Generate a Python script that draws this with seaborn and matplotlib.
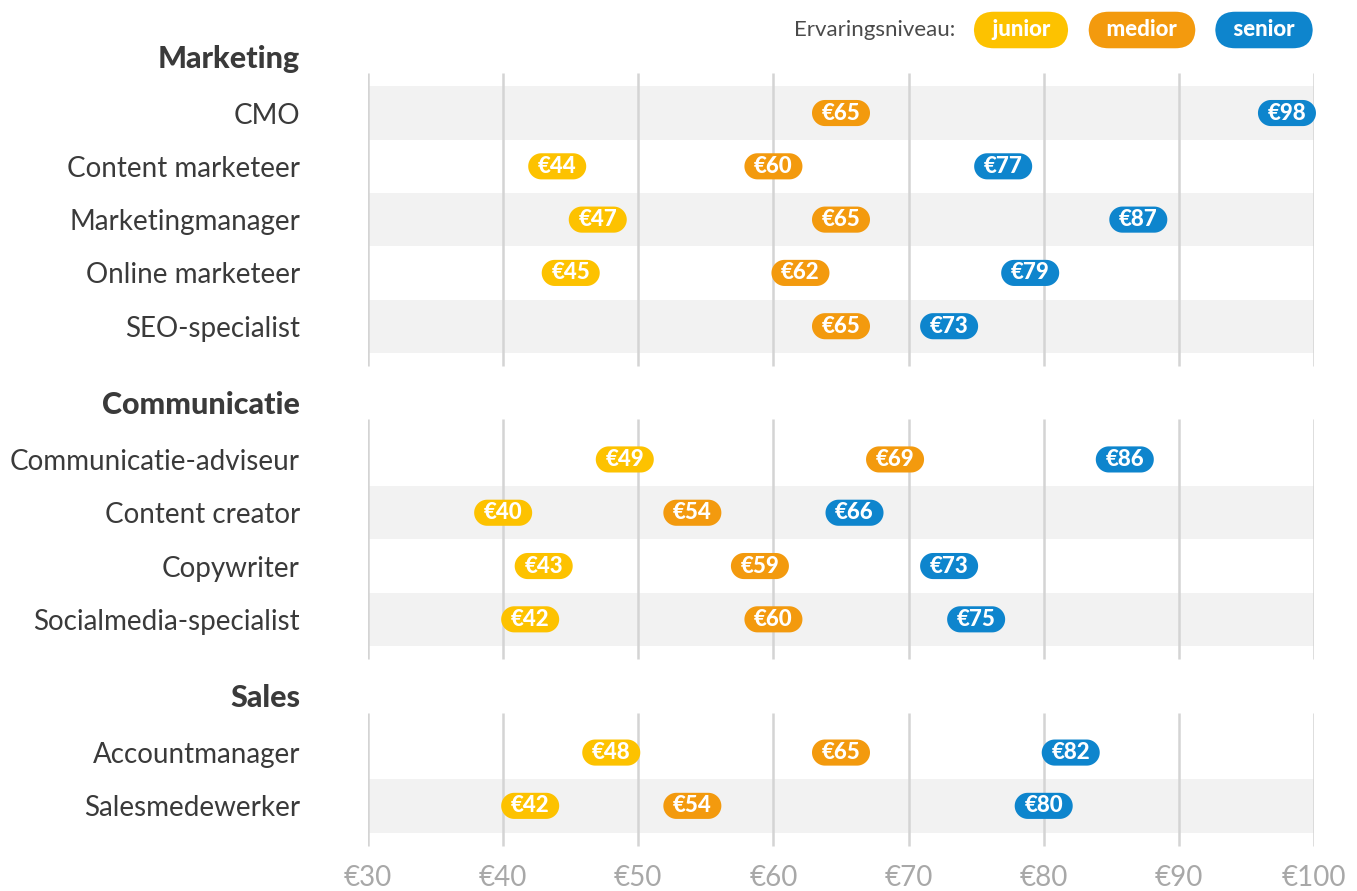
import numpy as np
import pandas as pd
import matplotlib
matplotlib.use('Agg')
import matplotlib.pyplot as plt
from matplotlib.path import Path
import seaborn as sns

# data
groepen = ['Marketing', 'Communicatie', 'Sales']
groep_grootte = [5, 4, 2]
functies = ['CMO', 'Content marketeer', 'Marketingmanager', 'Online marketeer', 'SEO-specialist',
            'Communicatie-adviseur', 'Content creator', 'Copywriter', 'Socialmedia-specialist',
            'Accountmanager', 'Salesmedewerker']
junior = [None, 44, 47, 45, None, 49, 40, 43, 42, 48, 42]
medior = [65, 60, 65, 62, 65, 69, 54, 59, 60, 65, 54]
senior = [98, 77, 87, 79, 73, 86, 66, 73, 75, 82, 80]
niveaus = ['junior', 'medior', 'senior']
kleuren = ['#FDC200', '#F39A0E', '#0E85CD']
xticks = [30, 40, 50, 60, 70, 80, 90, 100]

sns.set_theme(style='white')
plt.rcParams['font.family'] = ['Lato', 'DejaVu Sans']

# row positions, with a gap between the groups
gap = 1.5
pos = []
groep_start = []
y = 0
for n in groep_grootte:
    groep_start.append(y)
    pos += [y + i for i in range(n)]
    y += n + gap

df = pd.DataFrame({'functie': functies, 'pos': pos,
                   'junior': junior, 'medior': medior, 'senior': senior})
df = df.melt(id_vars=['functie', 'pos'], value_vars=niveaus,
             var_name='niveau', value_name='salaris').dropna()

# pill shaped marker
t = np.linspace(-np.pi / 2, np.pi / 2, 40)
r = 0.225
a = 0.5 - r
right = np.column_stack([a + r * np.cos(t), r * np.sin(t)])
left = np.column_stack([-a - r * np.cos(t), -r * np.sin(t)])
pill = Path(np.vstack([right, left, right[:1]]), closed=True)

fig = plt.figure(figsize=(13.57, 8.91), dpi=100)
ax = fig.add_axes([0.2712, 0.0477, 0.6971, 0.8733])

# alternating bands
for i, p in enumerate(pos):
    if i % 2 == 0:
        ax.axhspan(p - 0.5, p + 0.5, color='#F2F2F2', lw=0, zorder=0)

# gridlines per group
for s, n in zip(groep_start, groep_grootte):
    ax.vlines(xticks, s - 0.75, s + n - 1 + 0.75, color='#D4D4D4', lw=1.8, zorder=1)

sns.scatterplot(data=df, x='salaris', y='pos', hue='niveau', hue_order=niveaus,
                palette=dict(zip(niveaus, kleuren)), marker=pill, s=1744,
                linewidth=0, legend=False, ax=ax, zorder=3, clip_on=False)

for _, row in df.iterrows():
    ax.text(row['salaris'], row['pos'], f"€{int(row['salaris'])}", ha='center', va='center',
            color='white', fontsize=16, fontweight='black', zorder=4)

# group headers
for s, naam in zip(groep_start, groepen):
    ax.text(-0.0719, s - 1.02, naam, transform=ax.get_yaxis_transform(),
            ha='right', va='center', fontsize=22, fontweight='black', color='#3A3A3A')

ax.set_xlim(30, 100)
ax.set_ylim(13.8, -0.8)
ax.set_xticks(xticks, [f'€{v}' for v in xticks])
ax.set_yticks(pos, functies)
ax.set_xlabel('')
ax.set_ylabel('')
ax.tick_params(axis='y', length=0, pad=49, labelsize=20, labelcolor='#3A3A3A')
ax.tick_params(axis='x', length=0, pad=12, labelsize=20, labelcolor='#A8A8A8')
sns.despine(ax=ax, left=True, bottom=True)

# legend
fig.text(955 / 1357, 1 - 30 / 891, 'Ervaringsniveau:', ha='right', va='center',
         fontsize=16, color='#4A4A4A')
for naam, kleur, cx in zip(niveaus, kleuren, [1021, 1142, 1264]):
    fig.text(cx / 1357, 1 - 30 / 891, f'  {naam}  ', ha='center', va='center',
             fontsize=16, fontweight='black', color='white',
             bbox=dict(boxstyle='round,pad=0.35,rounding_size=0.9', fc=kleur, ec='none'))

fig.savefig('out.png', dpi=100, facecolor='white')
